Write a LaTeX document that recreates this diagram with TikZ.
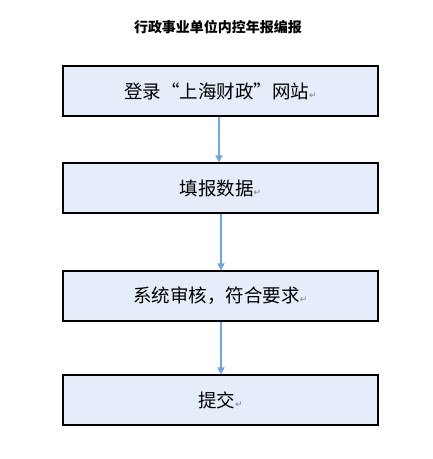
\documentclass[tikz,border=0pt]{standalone}
\usepackage{fontspec}
\newfontfamily\cjk{Noto Sans CJK SC}
\newfontfamily\symf{DejaVu Sans}
\usetikzlibrary{arrows.meta}
\definecolor{boxfill}{HTML}{E4EDF9}
\definecolor{arrowc}{HTML}{6FA6DE}
\newcommand{\retmark}{{\symf\fontsize{9}{9}\selectfont\color{gray}↵}}
\tikzset{
  stepbox/.style={draw=black, line width=1.1pt, fill=boxfill, minimum width=315pt, minimum height=50pt, inner sep=0pt, font=\cjk\fontsize{18.5}{18.5}\selectfont},
  flow/.style={draw=arrowc, line width=1.6pt, -{Triangle[length=7pt,width=7pt]}}
}
\begin{document}
\begin{tikzpicture}[x=1pt,y=-1pt]
\useasboundingbox (0,0) rectangle (433,459);
\node[font=\cjk\bfseries\fontsize{14}{14}\selectfont] (title) at (218,27) {行政事业单位内控年报编报};
\node[stepbox] (b1) at (220.5,91) {登录“上海财政”网站\retmark};
\node[stepbox] (b2) at (220.5,188) {填报数据\retmark};
\node[stepbox] (b3) at (220.5,296) {系统审核，符合要求\retmark};
\node[stepbox] (b4) at (220.5,400) {提交\retmark};
\draw[flow] (b1.south -| 219,0) -- (b2.north -| 219,0);
\draw[flow] (b2.south -| 221,0) -- (b3.north -| 221,0);
\draw[flow] (b3.south -| 221,0) -- (b4.north -| 221,0);
\end{tikzpicture}
\end{document}
